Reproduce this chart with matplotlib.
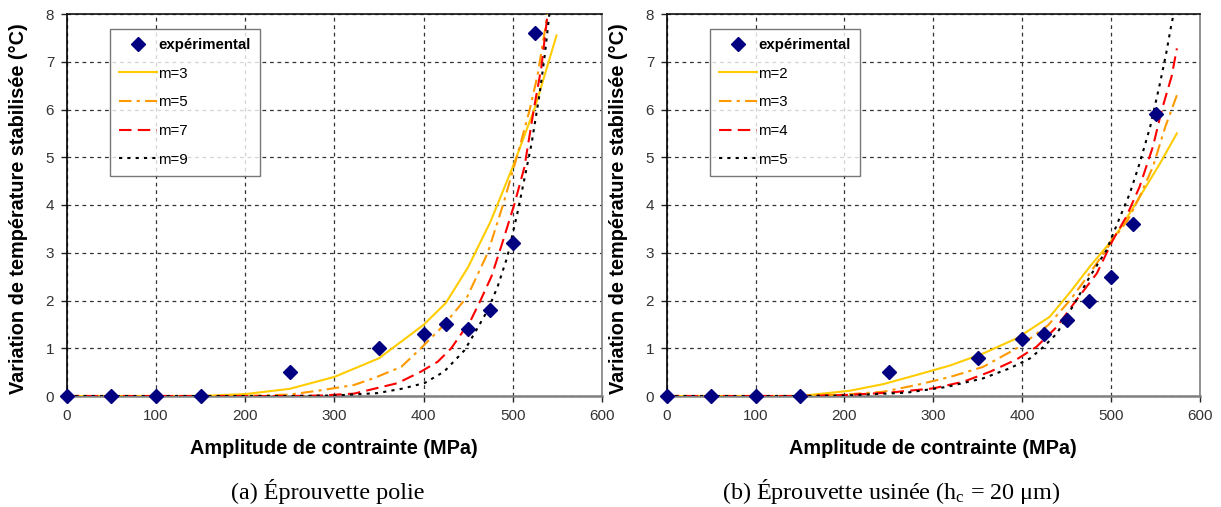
import matplotlib
matplotlib.use("Agg")
import matplotlib.pyplot as plt

plt.rcParams['font.family'] = ['Liberation Sans', 'DejaVu Sans']
plt.rcParams['mathtext.fontset'] = 'custom'
plt.rcParams['mathtext.rm'] = 'Liberation Serif'
plt.rcParams['mathtext.it'] = 'Liberation Serif:italic'

# ---------------- data: (a) polished specimen ----------------
a_exp_x = [0, 50, 100, 150, 250, 350, 400, 425, 450, 475, 500, 525]
a_exp_y = [0, 0, 0, 0, 0.5, 1.0, 1.3, 1.5, 1.4, 1.8, 3.2, 7.6]

a_m3_x = [0, 50, 100, 150, 200, 250, 300, 350, 400, 425, 450, 475, 500, 525, 549]
a_m3_y = [0, 0, 0, 0, 0.04, 0.15, 0.40, 0.79, 1.49, 1.95, 2.7, 3.65, 4.8, 6.05, 7.55]

a_m5_x = [0, 50, 100, 150, 200, 250, 285, 322, 345, 375, 397, 423, 449, 472, 489, 506, 519, 528, 539]
a_m5_y = [0, 0, 0, 0, 0, 0.03, 0.12, 0.23, 0.38, 0.61, 1.0, 1.49, 2.08, 3.0, 4.0, 5.1, 6.0, 6.74, 8.0]

a_m7_x = [0, 50, 100, 150, 200, 250, 285, 322, 371, 397, 416, 431, 453, 464, 476, 487, 502, 513, 524, 532, 539]
a_m7_y = [0, 0, 0, 0, 0, 0, 0.01, 0.05, 0.27, 0.51, 0.72, 1.0, 1.59, 2.01, 2.5, 3.13, 4.03, 4.79, 6.05, 6.88, 8.0]

a_m9_x = [0, 50, 100, 150, 200, 250, 300, 348, 375, 401, 423, 446, 457, 472, 483, 494, 506, 521, 530, 536, 541]
a_m9_y = [0, 0, 0, 0, 0, 0, 0.01, 0.06, 0.15, 0.27, 0.51, 0.96, 1.31, 1.8, 2.29, 2.92, 3.9, 5.28, 6.32, 7.16, 8.0]

# ---------------- data: (b) machined specimen ----------------
b_exp_x = [0, 50, 100, 150, 250, 350, 400, 425, 450, 475, 500, 525, 550]
b_exp_y = [0, 0, 0, 0, 0.5, 0.8, 1.2, 1.3, 1.6, 2.0, 2.5, 3.6, 5.9]

b_m2_x = [0, 50, 100, 150, 206, 244, 281, 319, 356, 394, 431, 455, 476, 495, 510, 525, 555, 574]
b_m2_y = [0, 0, 0, 0, 0.11, 0.25, 0.44, 0.64, 0.89, 1.21, 1.66, 2.2, 2.71, 3.13, 3.5, 3.95, 4.87, 5.5]

b_m3_x = [0, 50, 100, 150, 200, 244, 281, 319, 356, 394, 429, 454, 476, 502, 519, 532, 547, 561, 574]
b_m3_y = [0, 0, 0, 0, 0.03, 0.09, 0.23, 0.40, 0.61, 1.0, 1.48, 2.01, 2.57, 3.27, 3.69, 4.17, 4.8, 5.64, 6.3]

b_m4_x = [0, 50, 100, 150, 200, 250, 300, 334, 364, 394, 416, 439, 461, 484, 502, 517, 532, 547, 557, 568, 574]
b_m4_y = [0, 0, 0, 0, 0.02, 0.07, 0.16, 0.30, 0.51, 0.77, 1.03, 1.45, 2.01, 2.57, 3.27, 3.75, 4.38, 5.22, 5.99, 6.69, 7.28]

b_m5_x = [0, 50, 100, 150, 200, 270, 315, 356, 386, 409, 424, 439, 461, 476, 495, 510, 521, 532, 544, 555, 562, 568, 571]
b_m5_y = [0, 0, 0, 0, 0.01, 0.07, 0.19, 0.37, 0.58, 0.79, 1.03, 1.31, 2.01, 2.5, 3.06, 3.75, 4.24, 4.87, 5.64, 6.55, 7.18, 7.8, 8.05]

x_ticks = [0, 100, 200, 300, 400, 500, 600]
x_ticklabels_a = ['0', '100', '200', '300', '400', '500', '600']
x_ticklabels_b = ['0', '100', '200', '300', '400', '500', '600']
y_ticks = [0, 1, 2, 3, 4, 5, 6, 7, 8]

labels_a = ['expérimental', 'm=3', 'm=5', 'm=7', 'm=9']
labels_b = ['expérimental', 'm=2', 'm=3', 'm=4', 'm=5']

xlabel = 'Amplitude de contrainte (MPa)'
ylabel = 'Variation de température stabilisée (°C)'
caption_a = '(a) Éprouvette polie'
caption_b = r'(b) Éprouvette usinée (h$_{\mathrm{c}}$ = 20 μm)'

# ---------------- styles ----------------
C_YEL = '#FFCC00'
C_ORA = '#FF9900'
C_RED = '#FF0000'
C_BLK = '#000000'
C_MK = '#000080'

styles = [
    dict(color=C_YEL, lw=1.5, ls='-'),
    dict(color=C_ORA, lw=1.5, ls=(0, (6, 2.5, 1.5, 2.5))),
    dict(color=C_RED, lw=1.5, ls=(0, (6, 3))),
    dict(color=C_BLK, lw=1.5, ls=(0, (1.5, 2.5))),
]

fig = plt.figure(figsize=(12.21, 5.07), dpi=100)
W, H = 1221, 507


def make_axes(left_px, right_px):
    top_px, bot_px = 14, 396
    return fig.add_axes([left_px / W, 1 - bot_px / H, (right_px - left_px) / W, (bot_px - top_px) / H])


def draw(ax, exp_x, exp_y, curves, labels, ticklabels, caption, cap_x):
    handles = []
    for (cx, cy), st in zip(curves, styles):
        h, = ax.plot(cx, cy, **st, zorder=3, clip_on=True)
        handles.append(h)
    mk, = ax.plot(exp_x, exp_y, ls='none', marker='D', ms=7.5, color=C_MK,
                  mec=C_MK, zorder=5, clip_on=False)
    ax.set_xlim(0, 600)
    ax.set_ylim(0, 8)
    ax.set_xticks(x_ticks)
    ax.set_xticklabels(ticklabels)
    ax.set_yticks(y_ticks)
    ax.grid(True, color='#333333', lw=0.9, ls=(0, (3, 3)))
    ax.set_axisbelow(True)
    ax.tick_params(direction='out', length=4, width=1, labelsize=11,
                   labelcolor='#333333', color='#222222', pad=5)
    ax.spines['left'].set_color('#000000')
    ax.spines['top'].set_color('#111111')
    ax.spines['right'].set_color('#808080')
    ax.spines['bottom'].set_color('#808080')
    for s in ax.spines.values():
        s.set_linewidth(1.2)
    ax.spines['bottom'].set_linewidth(1.8)
    ax.set_xlabel(xlabel, fontsize=14.3, fontweight='bold')
    ax.xaxis.set_label_coords(0.5, -0.112)
    ax.set_ylabel(ylabel, fontsize=14.3, fontweight='bold')
    ax.yaxis.set_label_coords(-0.072, 0.49)
    leg = ax.legend([mk] + handles, labels, loc='upper left',
                    bbox_to_anchor=(0.081, 0.962), borderaxespad=0,
                    fontsize=10.8, frameon=True, fancybox=False,
                    edgecolor='#555555', handlelength=2.5, handletextpad=0.1,
                    labelspacing=0.98, borderpad=0.62, numpoints=1)
    leg.get_frame().set_linewidth(1.0)
    leg.get_texts()[0].set_fontweight('bold')
    fig.text(cap_x / W, 1 - 492 / H, caption, ha='center', va='center',
             fontsize=17.4, family='Liberation Serif')


ax_a = make_axes(66.7, 602)
draw(ax_a, a_exp_x, a_exp_y,
     [(a_m3_x, a_m3_y), (a_m5_x, a_m5_y), (a_m7_x, a_m7_y), (a_m9_x, a_m9_y)],
     labels_a, x_ticklabels_a, caption_a, 328)

ax_b = make_axes(666.7, 1200)
draw(ax_b, b_exp_x, b_exp_y,
     [(b_m2_x, b_m2_y), (b_m3_x, b_m3_y), (b_m4_x, b_m4_y), (b_m5_x, b_m5_y)],
     labels_b, x_ticklabels_b, caption_b, 891)

fig.savefig('out.png', dpi=100)
